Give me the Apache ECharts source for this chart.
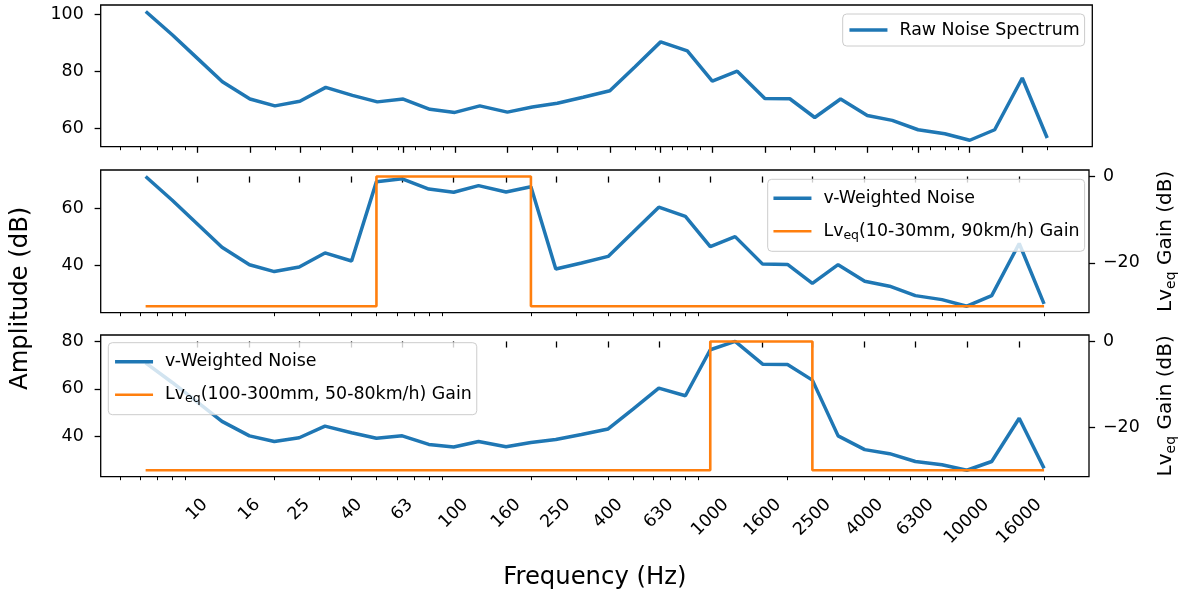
<!DOCTYPE html>
<html><head><meta charset="utf-8">
<script src="https://cdn.jsdelivr.net/npm/echarts@6/dist/echarts.min.js"></script>
<style>html,body{margin:0;padding:0;background:#fff}#c{width:1186px;height:594px}</style>
</head><body><div id="c"></div>
<script>
// ---------- data ----------
const freqs = [6.3, 8, 10, 12.5, 16, 20, 25, 31.5, 40, 50, 63, 80, 100, 125, 160, 200, 250, 315, 400, 500, 630, 800, 1000, 1250, 1600, 2000, 2500, 3150, 4000, 5000, 6300, 8000, 10000, 12500, 16000, 20000];
const rawNoise = [101.0, 92.7, 84.5, 76.3, 70.2, 67.8, 69.4, 74.3, 71.5, 69.2, 70.2, 66.6, 65.5, 67.8, 65.6, 67.4, 68.7, 70.8, 73.1, 81.5, 90.3, 87.1, 76.5, 80.0, 70.4, 70.3, 63.7, 70.2, 64.4, 62.7, 59.4, 58.0, 55.7, 59.4, 77.6, 56.5];
const weightedA = [71.0, 62.7, 54.5, 46.3, 40.2, 37.8, 39.4, 44.3, 41.5, 69.2, 70.2, 66.6, 65.5, 67.8, 65.6, 67.4, 38.7, 40.8, 43.1, 51.5, 60.3, 57.1, 46.5, 50.0, 40.4, 40.3, 33.7, 40.2, 34.4, 32.7, 29.4, 28.0, 25.7, 29.4, 47.6, 26.5];
const weightedB = [71.0, 62.7, 54.5, 46.3, 40.2, 37.8, 39.4, 44.3, 41.5, 39.2, 40.2, 36.6, 35.5, 37.8, 35.6, 37.4, 38.7, 40.8, 43.1, 51.5, 60.3, 57.1, 76.5, 80.0, 70.4, 70.3, 63.7, 40.2, 34.4, 32.7, 29.4, 28.0, 25.7, 29.4, 47.6, 26.5];
const gainA = [-30, -30, -30, -30, -30, -30, -30, -30, -30, 0, 0, 0, 0, 0, 0, -30, -30, -30, -30, -30, -30, -30, -30, -30, -30, -30, -30, -30, -30, -30, -30, -30, -30, -30, -30, -30];
const gainB = [-30, -30, -30, -30, -30, -30, -30, -30, -30, -30, -30, -30, -30, -30, -30, -30, -30, -30, -30, -30, -30, -30, 0, 0, 0, 0, -30, -30, -30, -30, -30, -30, -30, -30, -30, -30];
const xTickLabels = [10, 16, 25, 40, 63, 100, 160, 250, 400, 630, 1000, 1600, 2500, 4000, 6300, 10000, 16000];
const xMinorTicks = [5, 6, 7, 8, 9, 20, 30, 40, 50, 60, 70, 80, 90, 200, 300, 400, 500, 600, 700, 800, 900, 2000, 3000, 4000, 5000, 6000, 7000, 8000, 9000, 20000];
const yTicksRaw = [60, 80, 100];
const yTicksA = [40, 60];
const yTicksB = [40, 60, 80];
const gainTicks = [-20, 0];
const nameRaw = 'Raw Noise Spectrum';
const nameW = 'v-Weighted Noise';
const nameGainA = 'Lveq(10-30mm, 90km/h) Gain';
const nameGainB = 'Lveq(100-300mm, 50-80km/h) Gain';

// ---------- helpers ----------
const FONT = 'DejaVu Sans';
const BLUE = '#1f77b4', ORANGE = '#ff7f0e';
const X = freqs.map(f => Math.log10(f));
const xLo = X[0], xHi = X[X.length - 1], xPad = 0.05 * (xHi - xLo);
const xMin = xLo - xPad, xMax = xHi + xPad;
const pairs = arr => arr.map((v, i) => [X[i], v]);
function yRange(arr) {
  const lo = Math.min(...arr), hi = Math.max(...arr), p = 0.05 * (hi - lo);
  return [lo - p, hi + p];
}
const TICK_FS = 17.4;
const subStyle = { fontSize: 12.5, lineHeight: 12, verticalAlign: 'bottom', fontFamily: FONT, color: '#000' };
const subStyleBig = { fontSize: 14, lineHeight: 14, verticalAlign: 'bottom', fontFamily: FONT, color: '#000' };

const grids = [
  { left: 100.7, top: 5, width: 991.6, height: 141.7 },
  { left: 100.7, top: 170, width: 991.6, height: 142.7 },
  { left: 100.7, top: 335, width: 991.6, height: 141.7 }
].map(g => Object.assign(g, { show: true, borderColor: '#000', borderWidth: 1.3, backgroundColor: 'transparent' }));

function labelRich() {
  const r = {};
  for (let n = 1; n <= 6; n++) {
    const p = 5.53 * (n - 2);
    r['p' + n] = { fontSize: TICK_FS, fontFamily: FONT, color: '#000', padding: [Math.max(p, 0), Math.max(p, 0), 0, 0] };
  }
  return r;
}

function majorX(g) {
  const bottom = g === 2;
  return {
    type: 'value', gridIndex: g, min: xMin, max: xMax, position: 'bottom',
    axisLine: { show: false }, splitLine: { show: false },
    axisTick: { show: true, customValues: xTickLabels.map(Math.log10), length: 6.1, lineStyle: { color: '#000', width: 1.3 } },
    axisLabel: {
      show: bottom, customValues: xTickLabels.map(Math.log10), rotate: 45, align: 'center', verticalAlign: 'middle',
      margin: 33, fontSize: TICK_FS, fontFamily: FONT, color: '#000',
      formatter: v => { const s = String(Math.round(Math.pow(10, v))); return '{p' + s.length + '|' + s + '}'; },
      rich: labelRich()
    },
    name: bottom ? 'Frequency (Hz)' : '', nameLocation: 'middle', nameGap: 87,
    nameTextStyle: { fontSize: 24.3, fontFamily: FONT, color: '#000', lineHeight: 28 }
  };
}
function minorX(g) {
  return {
    type: 'value', gridIndex: g, min: xMin, max: xMax, position: 'bottom',
    axisLine: { show: false }, splitLine: { show: false }, axisLabel: { show: false },
    axisTick: { show: true, customValues: xMinorTicks.map(Math.log10), length: 3.5, lineStyle: { color: '#000', width: 1.0 } }
  };
}
function leftY(g, data, ticks) {
  const r = yRange(data);
  return {
    type: 'value', gridIndex: g, min: r[0], max: r[1], position: 'left',
    axisLine: { show: false }, splitLine: { show: false },
    axisTick: { show: true, customValues: ticks, length: 6.1, lineStyle: { color: '#000', width: 1.3 } },
    axisLabel: { customValues: ticks, margin: 17, fontSize: TICK_FS, fontFamily: FONT, color: '#000' }
  };
}
function rightY(g, data) {
  const r = yRange(data);
  return {
    type: 'value', gridIndex: g, min: r[0], max: r[1], position: 'right',
    axisLine: { show: false }, splitLine: { show: false },
    axisTick: { show: true, customValues: gainTicks, length: 6.1, lineStyle: { color: '#000', width: 1.3 } },
    axisLabel: { customValues: gainTicks, margin: 14, fontSize: TICK_FS, fontFamily: FONT, color: '#000',
      formatter: v => String(v).replace('-', '\u2212') },
    name: 'Lv{sub|eq} Gain (dB)', nameLocation: 'middle', nameRotate: 90, nameGap: 64,
    nameTextStyle: { fontSize: 20, fontFamily: FONT, color: '#000', lineHeight: 25, rich: { sub: subStyleBig } }
  };
}
function line(name, data, xi, yi, color, width, step) {
  return {
    type: 'line', name, data: pairs(data), xAxisIndex: xi, yAxisIndex: yi,
    showSymbol: false, symbol: 'none', step: step || false, silent: true, animation: false,
    lineStyle: { color, width }, itemStyle: { color }
  };
}
function legend(names, left, top, padding) {
  return {
    data: names, left, top, orient: 'vertical', selectedMode: false,
    itemWidth: 38, itemHeight: 14, itemGap: 11, padding,
    backgroundColor: 'rgba(255,255,255,0.8)', borderColor: '#cccccc', borderWidth: 1, borderRadius: 4,
    itemStyle: { opacity: 0 },
    lineStyle: { width: 'inherit' },
    textStyle: { fontSize: TICK_FS, fontFamily: FONT, color: '#000', lineHeight: 22, padding: [0, 0, 0, 7], rich: { sub: subStyle } },
    formatter: n => n.replace('Lveq', 'Lv{sub|eq}')
  };
}

const chart = echarts.init(document.getElementById('c'), null, { renderer: 'canvas' });
chart.setOption({
  animation: false,
  backgroundColor: '#fff',
  grid: grids,
  xAxis: [majorX(0), majorX(1), majorX(2), minorX(0), minorX(1), minorX(2)],
  yAxis: [
    leftY(0, rawNoise, yTicksRaw),
    leftY(1, weightedA, yTicksA),
    rightY(1, gainA),
    leftY(2, weightedB, yTicksB),
    rightY(2, gainB)
  ],
  legend: [
    legend([nameRaw], 842.7, 14, [5, 5, 5, 5]),
    legend([nameW, nameGainA], 767.7, 179.3, [8, 5, 9, 4]),
    legend([nameW, nameGainB], 108.3, 342.7, [8, 5, 9, 5])
  ],
  graphic: [{
    type: 'text', x: 21, y: 298.3, rotation: Math.PI / 2,
    style: { text: 'Amplitude (dB)', fontSize: 24.3, fontFamily: FONT, fill: '#000', align: 'center', verticalAlign: 'middle', textAlign: 'center', textVerticalAlign: 'middle' }
  }],
  series: [
    line(nameRaw, rawNoise, 0, 0, BLUE, 3.5),
    line(nameW, weightedA, 1, 1, BLUE, 3.5),
    line(nameGainA, gainA, 1, 2, ORANGE, 2.6, 'end'),
    line(nameW, weightedB, 2, 3, BLUE, 3.5),
    line(nameGainB, gainB, 2, 4, ORANGE, 2.6, 'end')
  ]
});
</script></body></html>
